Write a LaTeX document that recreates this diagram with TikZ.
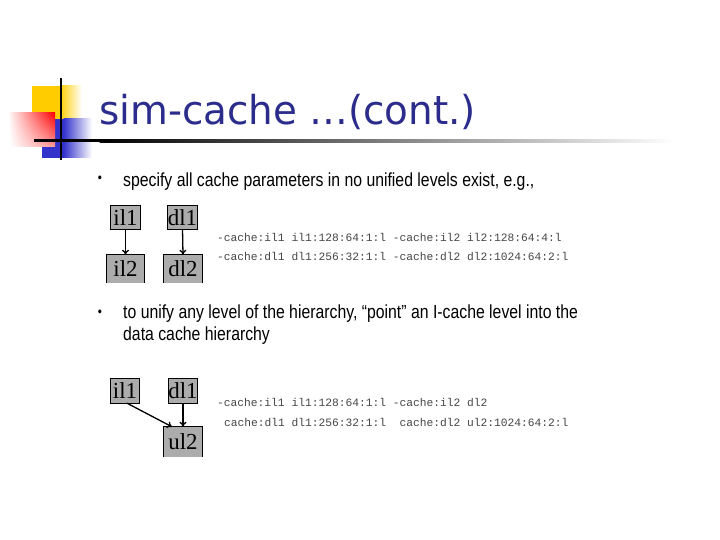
\documentclass[tikz,border=0pt]{standalone}
\usepackage{fontspec}
\usetikzlibrary{arrows.meta,shadings}
\setmainfont{Liberation Serif}
\newfontfamily\titlefont[FakeStretch=0.975]{DejaVu Sans}
\newfontfamily\bulletfont[FakeStretch=0.835]{Liberation Sans}
\newfontfamily\codefont{Liberation Mono}
\newfontfamily\boxfont{Liberation Serif}
\definecolor{titleblue}{RGB}{44,44,140}
\definecolor{logoyellow}{RGB}{255,204,0}
\definecolor{logoblue}{RGB}{51,51,204}
\definecolor{logored}{RGB}{255,0,0}
\definecolor{boxgray}{RGB}{172,172,172}
\definecolor{codegray}{RGB}{70,70,70}
\begin{document}
\begin{tikzpicture}[x=1bp,y=-1bp,
  cachebox/.style={fill=boxgray, inner sep=0pt,
    font=\boxfont\fontsize{23}{23}\selectfont},
  boxedge/.style={draw=black, line width=0.9bp},
  arr/.style={-{To[length=5bp,width=7bp]}, line width=1.3bp, draw=black},
  codeline/.style={anchor=base west, inner sep=0pt,
    font=\codefont\fontsize{11.3}{13}\selectfont, text=codegray},
  bullettext/.style={anchor=base west, inner sep=0pt,
    font=\bulletfont\fontsize{19}{22}\selectfont, text=black},
  bulletdot/.style={inner sep=0pt, font=\bulletfont\fontsize{14}{14}\selectfont}
]
\useasboundingbox[fill=white] (0,0) rectangle (720,540);

% logo
\fill[logoyellow] (32,86) rectangle (60,120);
\shade[left color=logoyellow, right color=white] (59.5,86) rectangle (82,120);
\fill[logoblue] (42,119) rectangle (64,158);
\shade[left color=logoblue, right color=white] (63.5,119) rectangle (92,158);
\shade[upper left=red!5, upper right=logored, lower left=white, lower right=red!40] (10,113) rectangle (55,147);
\draw[line width=2.5bp] (61,78) -- (61,160);
\fill[black] (34,139.5) rectangle (100,142.5);
\shade[left color=black, middle color=gray!90, right color=white] (99.5,139.5) rectangle (675,142.5);

% title
\node[anchor=base west, inner sep=0pt, text=titleblue,
  font=\titlefont\fontsize{40}{48}\selectfont] (title) at (99,125) {sim-cache …(cont.)};

% bullet 1
\node[bulletdot] (b1) at (100,179) {•};
\node[bullettext] (t1) at (123,187) {specify all cache parameters in no unified levels exist, e.g.,};

% diagram 1
\node[cachebox, minimum width=29bp, minimum height=23bp] (a1) at (125.5,217.5) {il1};
\node[cachebox, minimum width=29bp, minimum height=23bp] (a2) at (182.5,217.5) {dl1};
\node[cachebox, minimum width=37bp, minimum height=28bp] (a3) at (125.5,269) {il2};
\node[cachebox, minimum width=38bp, minimum height=28bp] (a4) at (183,269) {dl2};
\draw[boxedge] (a1.south west) rectangle (a1.north east);
\draw[boxedge] (a2.south west) rectangle (a2.north east);
\draw[boxedge] (a3.south west) -- (a3.north west) -- (a3.north east) -- (a3.south east);
\draw[boxedge] (a4.south west) -- (a4.north west) -- (a4.north east) -- (a4.south east);
\draw[arr] (a1.south) -- (a3.north);
\draw[arr] (a2.south) -- (a4.north);

\node[codeline] (c1) at (217,242) {-cache:il1 il1:128:64:1:l -cache:il2 il2:128:64:4:l};
\node[codeline] (c2) at (217,261) {-cache:dl1 dl1:256:32:1:l -cache:dl2 dl2:1024:64:2:l};

% bullet 2
\node[bulletdot] (b2) at (100,313) {•};
\node[bullettext] (t2) at (123,318) {to unify any level of the hierarchy, “point” an I-cache level into the};
\node[bullettext] (t3) at (123,340) {data cache hierarchy};

% diagram 2
\node[cachebox, minimum width=28bp, minimum height=24bp] (e1) at (125,391) {il1};
\node[cachebox, minimum width=28bp, minimum height=24bp] (e2) at (183,391) {dl1};
\node[cachebox, minimum width=38bp, minimum height=30bp] (e3) at (183,442) {ul2};
\draw[boxedge] (e1.south west) rectangle (e1.north east);
\draw[boxedge] (e2.south west) rectangle (e2.north east);
\draw[boxedge] (e3.south west) -- (e3.north west) -- (e3.north east) -- (e3.south east);
\draw[arr] ([xshift=2bp]e1.south) -- ([xshift=-11bp]e3.north);
\draw[arr] (e2.south) -- (e3.north);

\node[codeline] (c3) at (217,406) {-cache:il1 il1:128:64:1:l -cache:il2 dl2};
\node[codeline] (c4) at (223.8,426) {cache:dl1 dl1:256:32:1:l~ cache:dl2 ul2:1024:64:2:l};
\end{tikzpicture}
\end{document}
